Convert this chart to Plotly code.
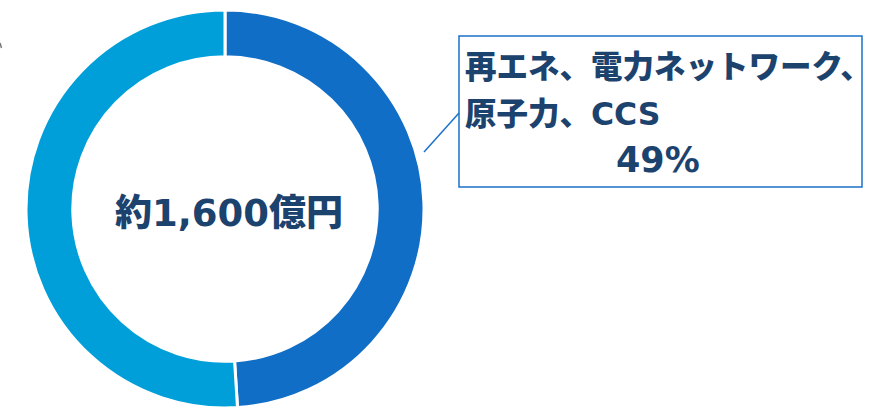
import plotly.graph_objects as go

# Investment breakdown (share of total, %)
labels = ["再エネ、電力ネットワーク、原子力、CCS", "その他"]
shares = [49, 51]
slice_colors = ["#106EC6", "#009FD9"]

total_label = "約1,600億円"
callout_lines = ["再エネ、電力ネットワーク、", "原子力、CCS"]

W, H = 874, 408
M_TOP = 10
PLOT_H = H - M_TOP

TEXT_COLOR = "#1C426E"
BOX_COLOR = "#1A72C9"
# Latin glyphs from DejaVu Sans, Japanese glyphs fall back to Noto Sans CJK JP
FONT = "DejaVu Sans, Noto Sans CJK JP, sans-serif"


def px(x):
    return x / W


def py(y):
    return (H - y) / PLOT_H


fig = go.Figure()
fig.add_trace(go.Pie(
    labels=labels,
    values=shares,
    hole=0.765,
    sort=False,
    direction="clockwise",
    rotation=0,
    marker=dict(colors=slice_colors, line=dict(color="white", width=3)),
    textinfo="none",
    hoverinfo="label+percent",
    showlegend=False,
    domain=dict(x=[px(25), px(425)], y=[0, 1]),
))

shapes = [
    # callout box
    dict(type="rect", xref="paper", yref="paper",
         x0=px(459), x1=px(862), y0=py(187), y1=py(36),
         line=dict(color=BOX_COLOR, width=1.5), fillcolor="rgba(0,0,0,0)"),
    # leader line from ring to box
    dict(type="line", xref="paper", yref="paper",
         x0=px(424), y0=py(152), x1=px(459), y1=py(113),
         line=dict(color=BOX_COLOR, width=1.5)),
    # leader stub at the left edge
    dict(type="line", xref="paper", yref="paper",
         x0=px(0), y0=py(43), x1=px(1.5), y1=py(48),
         line=dict(color="#777777", width=1.5)),
]

annotations = [
    dict(text=total_label, x=px(229), y=py(213), xref="paper", yref="paper",
         showarrow=False, xanchor="center", yanchor="middle",
         font=dict(family=FONT, size=37, color=TEXT_COLOR, weight=900)),
    dict(text=callout_lines[0], x=px(463), y=py(67), xref="paper", yref="paper",
         showarrow=False, xanchor="left", yanchor="middle",
         font=dict(family=FONT, size=31.5, color=TEXT_COLOR, weight=900)),
    dict(text=callout_lines[1], x=px(463), y=py(114), xref="paper", yref="paper",
         showarrow=False, xanchor="left", yanchor="middle",
         font=dict(family=FONT, size=31.5, color=TEXT_COLOR, weight=900)),
    dict(text=f"{shares[0]}%", x=px(658), y=py(160), xref="paper", yref="paper",
         showarrow=False, xanchor="center", yanchor="middle",
         font=dict(family=FONT, size=35, color=TEXT_COLOR, weight=900)),
]

fig.update_layout(
    width=W, height=H,
    margin=dict(l=0, r=0, t=M_TOP, b=0),
    paper_bgcolor="white", plot_bgcolor="white",
    shapes=shapes, annotations=annotations,
)

fig.write_html("out.html")
